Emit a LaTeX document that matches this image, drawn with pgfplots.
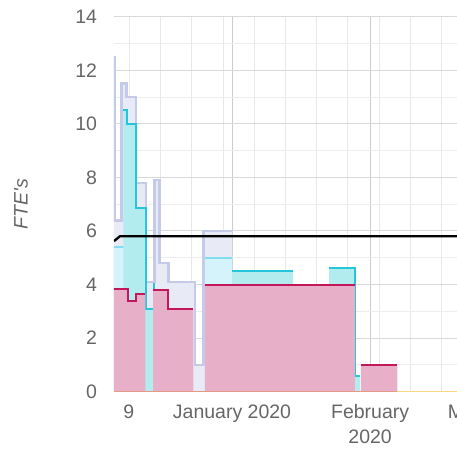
\documentclass[border=0pt]{standalone}
\usepackage{pgfplots}
\pgfplotsset{compat=1.18}
\usepackage{fontspec}
\setmainfont{Liberation Sans}
\definecolor{lavfill}{HTML}{E8EAF6}
\definecolor{lavline}{HTML}{C5CAE9}
\definecolor{lbfill}{HTML}{D4F3FB}
\definecolor{lbline}{HTML}{80DEF0}
\definecolor{tealfill}{HTML}{B2ECEE}
\definecolor{tealline}{HTML}{26C6DA}
\definecolor{pinkfill}{HTML}{E8B0C8}
\definecolor{pinkline}{HTML}{C2185B}
\definecolor{txt}{HTML}{666666}
\definecolor{zsalmon}{HTML}{E59A87}
\definecolor{zyellow}{HTML}{F4D77E}
\newcommand{\lbl}{\fontsize{19.5}{25}\selectfont}
\begin{document}
\begin{tikzpicture}
\begin{axis}[
  name=ax,
  scale only axis, width=343pt, height=375pt,
  xmin=-26.5, xmax=50.5, ymin=0, ymax=14,
  axis x line*=bottom, axis y line*=left,
  x axis line style={draw=black!70, line width=0.8pt, -},
  y axis line style={draw=none},
  major tick length=0pt, minor tick length=0pt,
  xtick={0,31}, xticklabels={January 2020, February\\2020},
  extra x ticks={-23.2}, extra x tick labels={9},
  extra x tick style={grid=none},
  minor xtick={-23,-16,-9,-2,5,12,19,26,33,40,47},
  ytick={0,2,...,14}, minor ytick={1,3,...,13},
  grid=both,
  major x grid style={draw=black!20, line width=1pt},
  minor x grid style={draw=black!9, line width=1pt},
  major y grid style={draw=black!15, line width=1pt},
  minor y grid style={draw=black!7, line width=1pt},
  xticklabel style={font=\lbl, text=txt, align=center, yshift=-9.5pt},
  yticklabel style={font=\lbl, text=txt, xshift=-13.5pt},
  /pgf/number format/assume math mode=true,
  ylabel={\itshape FTE\textquotesingle s},
  ylabel style={font=\lbl, text=txt, at={(axis description cs:-0.2711,0.5)}, anchor=center},
  fl/.style={const plot, draw=none, fill=#1, forget plot, mark=none},
  ln/.style={const plot, draw=#1, line width=2pt, forget plot, mark=none},
]
% lavender series
\addplot[fl=lavfill] coordinates {(-27,12.5) (-26.35,6.4) (-24.8,11.5) (-23.7,11.0) (-21.6,7.8) (-19.3,4.1) (-17.45,7.9) (-16.3,4.8) (-14.3,4.1) (-8.3,1.0) (-6.45,6.0) (0,6.0)} \closedcycle;
\addplot[ln=lavline, line width=2.5pt] coordinates {(-27,12.5) (-26.35,6.4) (-24.8,11.5) (-23.7,11.0) (-21.6,7.8) (-19.3,4.1) (-17.45,7.9) (-16.3,4.8) (-14.3,4.1) (-8.3,1.0) (-6.45,6.0) (0,6.0)};
% light blue series
\addplot[fl=lbfill] coordinates {(-27,5.4) (-24.0,4.9) (-21.6,4.9)} \closedcycle;
\addplot[ln=lbline] coordinates {(-27,5.4) (-24.0,4.9) (-21.6,4.9)};
\addplot[fl=lbfill] coordinates {(-6.1,5.0) (0,5.0)} \closedcycle;
\addplot[ln=lbline] coordinates {(-6.1,5.0) (0,5.0)};
% teal series
\addplot[fl=tealfill] coordinates {(-24.4,10.5) (-23.5,10.0) (-21.6,6.85) (-19.3,3.1) (-17.55,4.07)} \closedcycle;
\addplot[ln=tealline] coordinates {(-24.4,10.5) (-23.5,10.0) (-21.6,6.85) (-19.3,3.1) (-17.55,4.07)};
\addplot[fl=tealfill] coordinates {(0,4.5) (13.7,4.5)} \closedcycle;
\addplot[ln=tealline] coordinates {(0,4.5) (13.7,4.5)};
\addplot[fl=tealfill] coordinates {(21.8,4.6) (27.7,0.6) (28.75,0.6)} \closedcycle;
\addplot[ln=tealline] coordinates {(21.8,4.6) (27.7,0.6) (28.75,0.6)};
% pink series
\addplot[fl=pinkfill] coordinates {(-27,3.85) (-23.3,3.4) (-21.6,3.65) (-19.45,3.65)} \closedcycle;
\addplot[ln=pinkline] coordinates {(-27,3.85) (-23.3,3.4) (-21.6,3.65) (-19.45,3.65)};
\addplot[fl=pinkfill] coordinates {(-17.7,3.8) (-14.3,3.1) (-8.7,3.1)} \closedcycle;
\addplot[ln=pinkline] coordinates {(-17.7,3.8) (-14.3,3.1) (-8.7,3.1)};
\addplot[fl=pinkfill] coordinates {(-6.1,4.0) (27.6,4.0)} \closedcycle;
\addplot[ln=pinkline] coordinates {(-6.1,4.0) (27.6,4.0)};
\addplot[fl=pinkfill] coordinates {(28.9,1.0) (37.1,1.0)} \closedcycle;
\addplot[ln=pinkline] coordinates {(28.9,1.0) (37.1,1.0)};
% zero series
\addplot[draw=zsalmon, line width=1.2pt, forget plot, yshift=0.6pt] coordinates {(-26.5,0) (37.1,0)};
\addplot[draw=zyellow, line width=1.2pt, forget plot, yshift=0.6pt] coordinates {(37.1,0) (50.5,0)};
% black target line
\addplot[draw=black, line width=2.3pt, forget plot] coordinates {(-26.5,5.62) (-25.2,5.8) (50.5,5.8)};
\end{axis}
\node[font=\lbl, text=txt, anchor=north, inner sep=0.333em, yshift=-9.5pt] at ([xshift=42.3pt]ax.south east) {March 2020};
\pgfresetboundingbox
\path[use as bounding box] ([xshift=-114pt,yshift=-57.3pt]ax.south west) rectangle ([yshift=16.7pt]ax.north east);
\end{tikzpicture}
\end{document}
